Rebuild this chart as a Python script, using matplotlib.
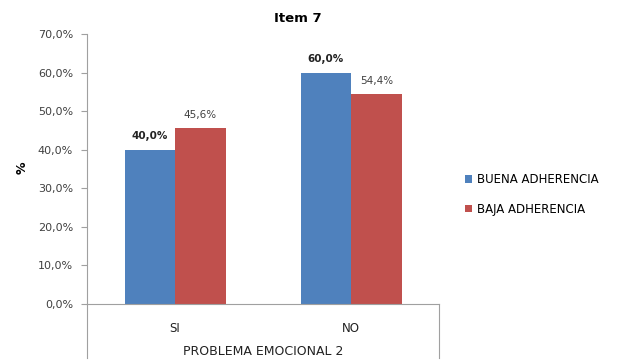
import matplotlib.pyplot as plt
import numpy as np

# Datos del item 7
categorias = ['SI', 'NO']
buena_adherencia = [40.0, 60.0]
baja_adherencia = [45.6, 54.4]
series = ['BUENA ADHERENCIA', 'BAJA ADHERENCIA']
ticks_y = [0, 10, 20, 30, 40, 50, 60, 70]

azul = '#4F81BD'
rojo = '#C0504D'
gris = '#404040'

fig = plt.figure(figsize=(6.18, 3.6), dpi=100)
ax = fig.add_axes([0.1408, 0.1556, 0.5696, 0.75])

x = np.arange(len(categorias))
ancho = 0.287
b1 = ax.bar(x - ancho / 2, buena_adherencia, ancho, color=azul, label=series[0])
b2 = ax.bar(x + ancho / 2, baja_adherencia, ancho, color=rojo, label=series[1])

# Etiquetas de valor (formato con coma decimal)
for barra, v in zip(b1, buena_adherencia):
    ax.text(barra.get_x() + barra.get_width() / 2, v + 2.2, f'{v:.1f}%'.replace('.', ','),
            ha='center', va='bottom', fontsize=7.5, fontweight='bold', color='#222222')
for barra, v in zip(b2, baja_adherencia):
    ax.text(barra.get_x() + barra.get_width() / 2, v + 2.2, f'{v:.1f}%'.replace('.', ','),
            ha='center', va='bottom', fontsize=7.5, color=gris)

ax.set_xlim(-0.5, 1.5)
ax.set_ylim(0, 70)
ax.set_yticks(ticks_y)
ax.set_yticklabels([f'{t:.1f}%'.replace('.', ',') for t in ticks_y], fontsize=8, color=gris)
ax.set_xticks(x)
ax.set_xticklabels(categorias, fontsize=8.5, color='#222222')
ax.tick_params(axis='x', length=0, pad=13)
ax.tick_params(axis='y', length=4, color='#a0a0a0', width=0.8, pad=6)

for lado in ['top', 'right']:
    ax.spines[lado].set_visible(False)
ax.spines['left'].set_color('#a0a0a0')
ax.spines['bottom'].set_color('#a0a0a0')

# Lineas laterales de la tabla de categorias bajo el eje
for xa in [0, 1]:
    ax.plot([xa, xa], [0, -0.2], transform=ax.transAxes, color='#a0a0a0',
            lw=0.8, clip_on=False)

fig.text(0.482, 0.95, 'Item 7', fontsize=9.5, fontweight='bold', ha='center', va='center')
ax.set_xlabel('PROBLEMA EMOCIONAL 2', fontsize=9, color='#222222', labelpad=7)
fig.text(0.036, 0.535, '%', rotation=90, fontsize=9, fontweight='bold', ha='center', va='center')

fig.legend(handles=[b1, b2], labels=series, loc='center left', bbox_to_anchor=(0.735, 0.46),
           frameon=False, fontsize=8.5, handlelength=0.6, handleheight=0.6,
           handletextpad=0.4, labelspacing=1.4)

fig.savefig('out.png', dpi=100)
